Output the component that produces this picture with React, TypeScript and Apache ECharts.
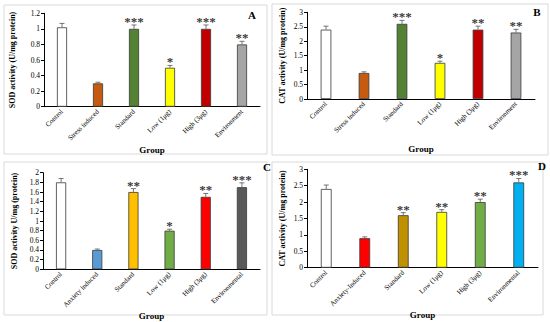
import React, { useEffect, useRef } from "react";
import * as echarts from "echarts";

const catsA = ["Control", "Stress induced", "Standard", "Low (1μg)", "High (3μg)", "Environment"];
const valsA = [1.02, 0.3, 1.0, 0.5, 1.0, 0.8];
const errsA = [0.05, 0.015, 0.05, 0.03, 0.05, 0.04];
const starsA = ["", "", "***", "*", "***", "**"];
const colorsA = ["#ffffff", "#c55a11", "#548235", "#ffff00", "#c00000", "#a5a5a5"];

const catsB = ["Control", "Stress induced", "Standard", "Low (1μg)", "High (3μg)", "Environment"];
const valsB = [2.4, 0.9, 2.6, 1.25, 2.4, 2.3];
const errsB = [0.12, 0.04, 0.12, 0.06, 0.12, 0.11];
const starsB = ["", "", "***", "*", "**", "**"];
const colorsB = ["#ffffff", "#c55a11", "#548235", "#ffff00", "#c00000", "#a5a5a5"];

const catsC = ["Control", "Anxiety induced", "Standard", "Low (1μg)", "High (3μg)", "Environmental"];
const valsC = [1.8, 0.4, 1.6, 0.8, 1.5, 1.7];
const errsC = [0.08, 0.02, 0.07, 0.03, 0.07, 0.09];
const starsC = ["", "", "**", "*", "**", "***"];
const colorsC = ["#ffffff", "#5b9bd5", "#ffc000", "#70ad47", "#ff0000", "#595959"];

const catsD = ["Control", "Anxiety-Induced", "Standard", "Low (1μg)", "High (3μg)", "Environmental"];
const valsD = [2.4, 0.9, 1.6, 1.7, 2.0, 2.6];
const errsD = [0.12, 0.04, 0.08, 0.07, 0.09, 0.12];
const starsD = ["", "", "**", "**", "**", "***"];
const colorsD = ["#ffffff", "#ff0000", "#bf9000", "#ffff00", "#70ad47", "#00b0f0"];

const FONT = "'Liberation Serif', 'Times New Roman', serif";

type Panel = {
  cats: string[];
  vals: number[];
  errs: number[];
  stars: string[];
  colors: string[];
  yName: string;
  yMax: number;
  yInterval: number;
  grid: { left: number; top: number; width: number; height: number };
  yNameGap: number;
  xNameGap: number;
};

const panels: Panel[] = [
  { cats: catsA, vals: valsA, errs: errsA, stars: starsA, colors: colorsA, yName: "SOD activity (U/mg protein)", yMax: 1.2, yInterval: 0.2, grid: { left: 44, top: 13.3, width: 216, height: 93.4 }, yNameGap: 28, xNameGap: 39 },
  { cats: catsB, vals: valsB, errs: errsB, stars: starsB, colors: colorsB, yName: "CAT activity (U/mg protein)", yMax: 3, yInterval: 0.5, grid: { left: 307, top: 12.3, width: 228, height: 86.7 }, yNameGap: 21, xNameGap: 45 },
  { cats: catsC, vals: valsC, errs: errsC, stars: starsC, colors: colorsC, yName: "SOD activity U/mg (protein)", yMax: 2, yInterval: 0.2, grid: { left: 43, top: 172.7, width: 217, height: 96.6 }, yNameGap: 25, xNameGap: 38 },
  { cats: catsD, vals: valsD, errs: errsD, stars: starsD, colors: colorsD, yName: "CAT activity (U/mg protein)", yMax: 3, yInterval: 0.5, grid: { left: 307, top: 169.3, width: 231, height: 98.4 }, yNameGap: 21, xNameGap: 39 },
];

const frames = [
  { x: 4, y: 5, w: 263, h: 149 },
  { x: 272, y: 4, w: 276, h: 151 },
  { x: 4, y: 162, w: 263, h: 153 },
  { x: 272, y: 162, w: 271, h: 153 },
];

const letters = [
  { t: "A", x: 252, y: 15 },
  { t: "B", x: 537, y: 12 },
  { t: "C", x: 267, y: 167 },
  { t: "D", x: 542, y: 166 },
];

export default function App() {
  const ref = useRef<HTMLDivElement>(null);
  useEffect(() => {
    document.body.style.margin = "0";
    const chart = echarts.init(ref.current!, null, { renderer: "svg" });
    const grids: any[] = [];
    const xAxes: any[] = [];
    const yAxes: any[] = [];
    const series: any[] = [];
    panels.forEach((p, i) => {
      grids.push({ ...p.grid, containLabel: false });
      xAxes.push({
        type: "category",
        gridIndex: i,
        data: p.cats,
        name: "Group",
        nameLocation: "middle",
        nameGap: p.xNameGap,
        nameTextStyle: { fontFamily: FONT, fontWeight: "bold", fontSize: 9, color: "#000" },
        axisLine: { lineStyle: { color: "#000", width: 1 } },
        axisTick: { show: false },
        axisLabel: { rotate: 45, fontFamily: FONT, fontSize: 7, color: "#000", margin: 4, interval: 0 },
      });
      yAxes.push({
        type: "value",
        gridIndex: i,
        min: 0,
        max: p.yMax,
        interval: p.yInterval,
        name: p.yName,
        nameLocation: "middle",
        nameGap: p.yNameGap,
        nameTextStyle: { fontFamily: FONT, fontWeight: "bold", fontSize: 8, color: "#000" },
        axisLine: { show: true, lineStyle: { color: "#000", width: 1 } },
        axisTick: { show: true, length: 3, lineStyle: { color: "#000" } },
        axisLabel: { fontFamily: FONT, fontSize: 7.5, color: "#000", margin: 4 },
        splitLine: { show: false },
      });
      series.push({
        type: "bar",
        xAxisIndex: i,
        yAxisIndex: i,
        barWidth: "28%",
        data: p.vals.map((v, j) => ({
          value: v,
          itemStyle: { color: p.colors[j], borderColor: "#3a3a3a", borderWidth: 0.8 },
        })),
      });
      series.push({
        type: "custom",
        xAxisIndex: i,
        yAxisIndex: i,
        z: 5,
        data: p.vals.map((v, j) => [j, v, p.errs[j]]),
        renderItem: (params: any, api: any) => {
          const x = api.value(0);
          const v = api.value(1);
          const e = api.value(2);
          const top = api.coord([x, v + e]);
          const base = api.coord([x, v]);
          return {
            type: "group",
            children: [
              { type: "line", shape: { x1: base[0], y1: base[1], x2: top[0], y2: top[1] }, style: { stroke: "#555", lineWidth: 0.8 } },
              { type: "line", shape: { x1: top[0] - 2.5, y1: top[1], x2: top[0] + 2.5, y2: top[1] }, style: { stroke: "#555", lineWidth: 0.8 } },
            ],
          };
        },
      });
      series.push({
        type: "scatter",
        xAxisIndex: i,
        yAxisIndex: i,
        z: 6,
        symbolSize: 0,
        silent: true,
        data: p.vals.map((v, j) => [j, v + p.errs[j]]),
        label: {
          show: true,
          position: "top",
          distance: -3,
          formatter: (prm: any) => p.stars[prm.dataIndex],
          fontFamily: FONT,
          fontSize: 13,
          fontWeight: "bold",
          color: "#000",
        },
      });
    });
    const graphic: any[] = [];
    frames.forEach((f) => {
      graphic.push({ type: "rect", shape: { x: f.x, y: f.y, width: f.w, height: f.h }, style: { fill: "none", stroke: "#d9d9d9", lineWidth: 1 }, z: 0 });
    });
    letters.forEach((l) => {
      graphic.push({ type: "text", x: l.x, y: l.y, style: { text: l.t, fontFamily: FONT, fontWeight: "bold", fontSize: 11, fill: "#000", align: "center", verticalAlign: "middle" }, z: 10 });
    });
    chart.setOption({
      animation: false,
      backgroundColor: "#ffffff",
      grid: grids,
      xAxis: xAxes,
      yAxis: yAxes,
      series,
      graphic,
    });
    return () => chart.dispose();
  }, []);
  return <div ref={ref} style={{ position: "absolute", left: 0, top: 0, width: 550, height: 322 }} />;
}
